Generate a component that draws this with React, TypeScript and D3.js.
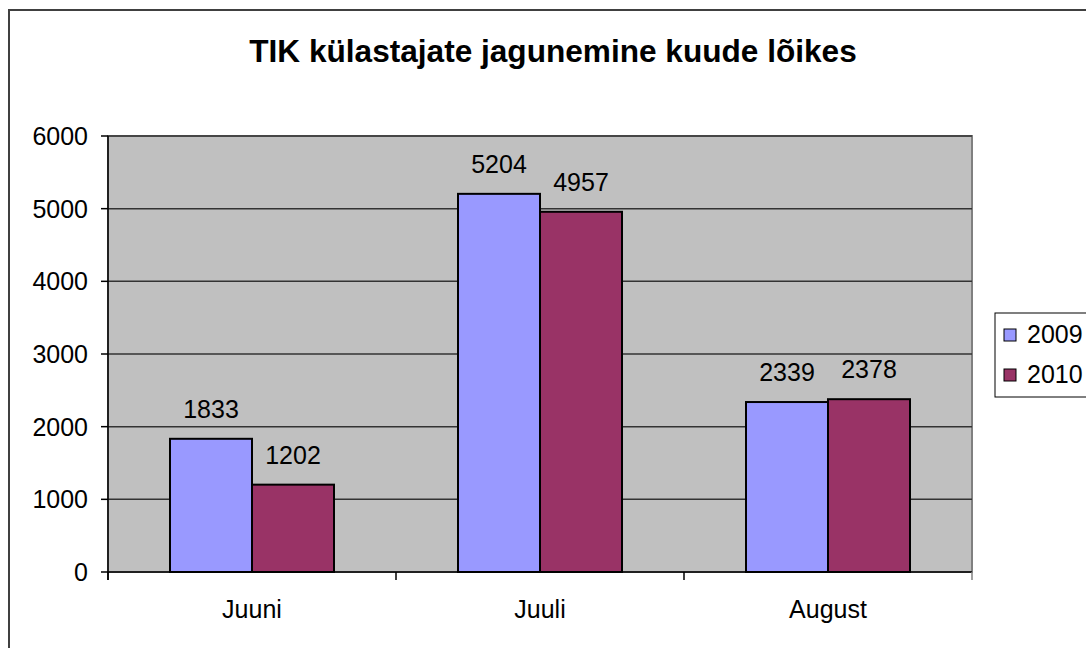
import React from 'react';
import * as d3 from 'd3';

const months = ['Juuni', 'Juuli', 'August'];
const seriesNames = ['2009', '2010'];
const values2009 = [1833, 5204, 2339];
const values2010 = [1202, 4957, 2378];
const yTicks = [0, 1000, 2000, 3000, 4000, 5000, 6000];
const colors = ['#9999FF', '#993366'];

export default function App() {
  const W = 1086;
  const H = 648;
  const plot = {left: 108, right: 972, top: 136, bottom: 572};
  const font = '"Liberation Sans", Arial, sans-serif';

  const x0 = d3.scaleBand().domain(months).range([plot.left, plot.right]).paddingInner(0).paddingOuter(0);
  // bars take 164 of each 288px group
  const x1 = d3
    .scaleBand()
    .domain(seriesNames)
    .range([0, x0.bandwidth()])
    .paddingOuter(62 / 82)
    .paddingInner(0);
  const y = d3.scaleLinear().domain([0, 6000]).range([plot.bottom, plot.top]);

  const series = [values2009, values2010];
  const boundaries = [...months.map((m) => x0(m)!), plot.right];

  return (
    <svg width={W} height={H} style={{position: 'absolute', left: 0, top: 0}} fontFamily={font}>
      <rect x={0} y={0} width={W} height={H} fill="#fff" />
      {/* outer chart border */}
      <rect x={9} y={10} width={W + 10} height={H + 10} fill="none" stroke="#404040" strokeWidth={2} />

      <text x={553} y={62} textAnchor="middle" fontSize={31.6} fontWeight="bold" fill="#000">
        TIK külastajate jagunemine kuude lõikes
      </text>

      {/* plot area */}
      <rect x={plot.left} y={plot.top} width={plot.right - plot.left} height={plot.bottom - plot.top} fill="#C0C0C0" stroke="#808080" strokeWidth={2} />
      {yTicks.map((t) => (
        <g key={t}>
          {t > 0 && <line x1={plot.left} x2={plot.right} y1={y(t)} y2={y(t)} stroke="#333" strokeWidth={1.5} />}
          <line x1={plot.left - 7} x2={plot.left} y1={y(t)} y2={y(t)} stroke="#000" strokeWidth={1.5} />
          <text x={88} y={y(t) + 9} textAnchor="end" fontSize={25} fill="#000">
            {t}
          </text>
        </g>
      ))}

      {/* bars */}
      {months.map((m, i) => (
        <g key={m} transform={`translate(${x0(m)},0)`}>
          {seriesNames.map((s, j) => {
            const v = series[j][i];
            const bx = x1(s)!;
            return (
              <g key={s}>
                <rect x={bx} y={y(v)} width={x1.bandwidth()} height={plot.bottom - y(v)} fill={colors[j]} stroke="#000" strokeWidth={2} />
                <text x={bx + x1.bandwidth() / 2} y={y(v) - 21} textAnchor="middle" fontSize={25} fill="#000">
                  {v}
                </text>
              </g>
            );
          })}
          <text x={x0.bandwidth() / 2} y={618} textAnchor="middle" fontSize={25} fill="#000">
            {m}
          </text>
        </g>
      ))}

      {/* axes */}
      <line x1={plot.left} x2={plot.left} y1={plot.top} y2={plot.bottom + 8} stroke="#000" strokeWidth={1.5} />
      <line x1={plot.left} x2={plot.right} y1={plot.bottom} y2={plot.bottom} stroke="#000" strokeWidth={1.5} />
      {boundaries.map((b) => (
        <line key={b} x1={b} x2={b} y1={plot.bottom} y2={plot.bottom + 8} stroke={b === plot.right ? '#808080' : '#000'} strokeWidth={1.5} />
      ))}

      {/* legend */}
      <rect x={995} y={313} width={100} height={84} fill="#fff" stroke="#000" strokeWidth={1} />
      {seriesNames.map((s, j) => (
        <g key={s} transform={`translate(0,${j * 40})`}>
          <rect x={1004} y={329} width={12} height={12} fill={colors[j]} stroke="#000" strokeWidth={1} />
          <text x={1027} y={343} fontSize={25} fill="#000">
            {s}
          </text>
        </g>
      ))}
    </svg>
  );
}
